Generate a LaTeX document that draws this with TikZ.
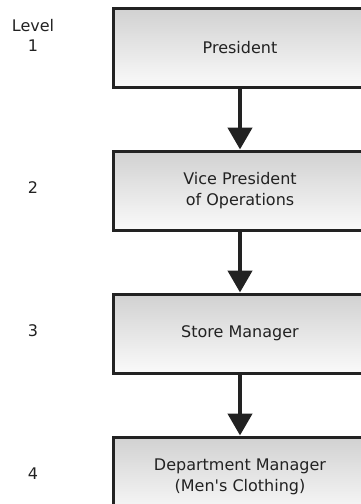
\documentclass[tikz,border=0pt]{standalone}
\usepackage{fontspec}
\setmainfont{DejaVu Sans}
\usetikzlibrary{shapes,arrows.meta,positioning}
\definecolor{inkgray}{HTML}{222222}
\tikzstyle{rank} = [rectangle, draw=inkgray, line width=3pt, top color=black!18, bottom color=black!2, text=inkgray, align=center, minimum width=254pt, minimum height=79pt, font=\fontsize{16}{21}\selectfont]
\tikzstyle{levellabel} = [text=inkgray, align=center, font=\fontsize{16}{20}\selectfont]
\tikzstyle{line} = [draw=inkgray, line width=4.5pt, -{Triangle[width=24pt,length=22pt]}]

\begin{document}
\begin{tikzpicture}
    \useasboundingbox (0,0) rectangle (361pt,-504pt);
    \node [rank] (pres) at (240pt,-47.5pt) {President};
    \node [rank, below=61pt of pres] (vp) {Vice President\\of Operations};
    \node [rank, below=61pt of vp] (store) {Store Manager};
    \node [rank, below=61pt of store] (dept) {Department Manager\\(Men\textquotesingle s Clothing)};
    \node [levellabel] (lv1) at (33pt,-35pt) {Level\\1};
    \node [levellabel, yshift=3pt] (lv2) at (vp -| lv1) {2};
    \node [levellabel, yshift=3pt] (lv3) at (store -| lv1) {3};
    \node [levellabel, yshift=3pt] (lv4) at (dept -| lv1) {4};
    \path [line] (pres) -- (vp);
    \path [line] (vp) -- (store);
    \path [line] (store) -- (dept);
\end{tikzpicture}
\end{document}
